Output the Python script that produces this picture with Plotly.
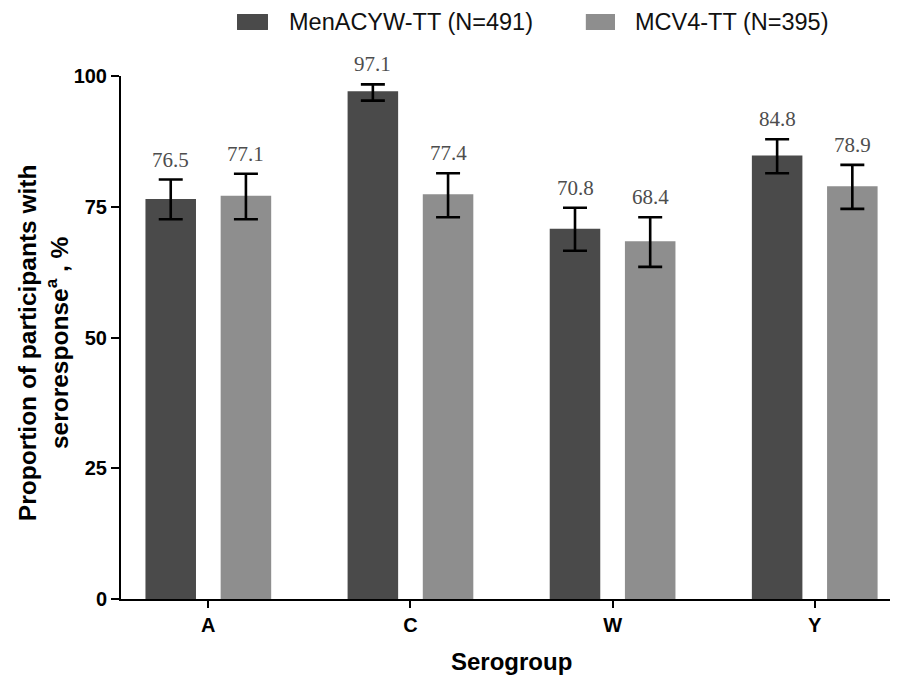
import plotly.graph_objects as go

# ---- data ----
serogroups = ["A", "C", "W", "Y"]
series_names = ["MenACYW-TT (N=491)", "MCV4-TT (N=395)"]
menacyw_vals = [76.5, 97.1, 70.8, 84.8]
menacyw_lo = [72.6, 95.3, 66.6, 81.4]
menacyw_hi = [80.2, 98.4, 74.8, 87.9]
mcv4_vals = [77.1, 77.4, 68.4, 78.9]
mcv4_lo = [72.6, 73.0, 63.5, 74.6]
mcv4_hi = [81.3, 81.4, 73.0, 83.0]
y_ticks = [0, 25, 50, 75, 100]

colors = ["#4a4a4a", "#8e8e8e"]
offsets = [-0.186, 0.186]
bar_w = 0.25

series = [
    (menacyw_vals, menacyw_lo, menacyw_hi),
    (mcv4_vals, mcv4_lo, mcv4_hi),
]

fig = go.Figure()
annotations = []
idx = list(range(len(serogroups)))
for s, (vals, lo, hi) in enumerate(series):
    xs = [i + offsets[s] for i in idx]
    fig.add_trace(go.Bar(
        x=xs, y=vals, width=bar_w, name=series_names[s],
        marker=dict(color=colors[s], line=dict(width=0)),
        error_y=dict(type="data", symmetric=False,
                     array=[h - v for h, v in zip(hi, vals)],
                     arrayminus=[v - l for v, l in zip(vals, lo)],
                     color="black", thickness=2.6, width=12),
        showlegend=False,
    ))
    for x, v, h in zip(xs, vals, hi):
        annotations.append(dict(
            x=x, y=h, xref="x", yref="y", text=f"{v:.1f}", showarrow=False,
            yanchor="bottom", yshift=6,
            font=dict(family="Liberation Serif", size=21, color="#4d4d4d"),
        ))

# custom legend (swatches + labels)
legend_swatches = [(0.1495, 0.1894), (0.599, 0.6366)]
legend_text_x = [0.2139, 0.6598]
shapes = []
for s in range(2):
    x0, x1 = legend_swatches[s]
    shapes.append(dict(type="rect", xref="paper", yref="paper",
                       x0=x0, x1=x1, y0=1.088, y1=1.1185,
                       fillcolor=colors[s], line=dict(width=0)))
    annotations.append(dict(
        x=legend_text_x[s], y=1.103, xref="paper", yref="paper",
        text=series_names[s], showarrow=False, xanchor="left", yanchor="middle",
        font=dict(family="Liberation Sans", size=23.5, color="#111111"),
    ))

# axis titles
annotations.append(dict(
    x=-0.1, y=0.49, xref="paper", yref="paper", textangle=-90,
    text="Proportion of participants with<br>seroresponse<sup>a</sup> , %",
    showarrow=False, xanchor="center", yanchor="middle",
    font=dict(family="Liberation Sans", size=24.5, color="black", weight="bold"),
))
annotations.append(dict(
    x=0.503, y=-0.12, xref="paper", yref="paper", text="Serogroup",
    showarrow=False, xanchor="center", yanchor="middle",
    font=dict(family="Liberation Sans", size=24, color="black", weight="bold"),
))

fig.update_layout(
    width=890, height=670,
    margin=dict(l=113, r=1, t=68, b=79),
    paper_bgcolor="white", plot_bgcolor="white",
    barmode="overlay",
    annotations=annotations, shapes=shapes,
    xaxis=dict(
        range=[-0.432, 3.407], tickmode="array", tickvals=idx, ticktext=serogroups,
        showgrid=False, zeroline=False, showline=True, linecolor="black", linewidth=2,
        ticks="outside", ticklen=7, tickwidth=2, tickcolor="black",
        tickfont=dict(family="Liberation Sans", size=20, color="black", weight="bold"),
    ),
    yaxis=dict(
        range=[0, 100], tickmode="array", tickvals=y_ticks,
        showgrid=False, zeroline=False, showline=True, linecolor="black", linewidth=2,
        ticks="outside", ticklen=8, tickwidth=2, tickcolor="black",
        tickfont=dict(family="Liberation Sans", size=20, color="black", weight="bold"),
    ),
)

fig.write_html("out.html")
